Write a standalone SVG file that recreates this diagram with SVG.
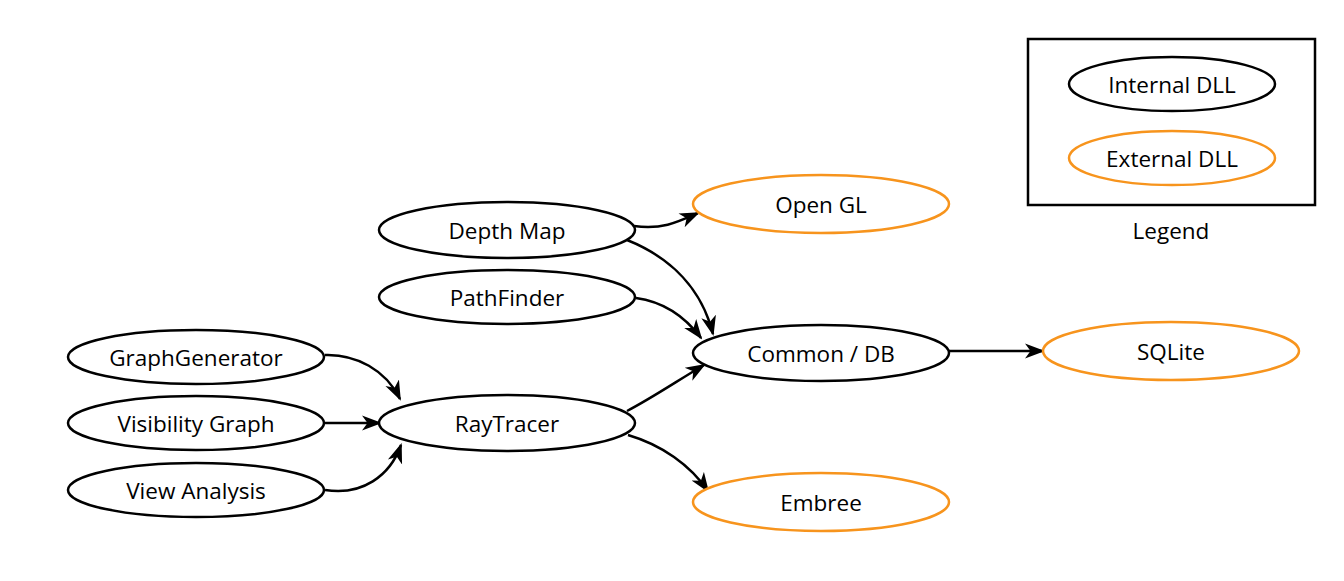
<svg xmlns="http://www.w3.org/2000/svg" width="1344" height="581" viewBox="0 0 1344 581">
<style>
.int{fill:#fff;stroke:#000;stroke-width:2.5}
.ext{fill:#fff;stroke:#F7941D;stroke-width:2.5}
.t{font-family:"Open Sans","Liberation Sans",sans-serif;font-size:22.5px;fill:#000;text-anchor:middle;dominant-baseline:central}
.e{fill:none;stroke:#000;stroke-width:2.5;marker-end:url(#ah)}
</style>
<defs>
<marker id="ah" markerUnits="userSpaceOnUse" markerWidth="20" markerHeight="18" viewBox="0 0 20 18" refX="18" refY="9" orient="auto">
<path d="M0,1.5 L20,9 L0,16.5 L5.5,9 z" fill="#000"/>
</marker>
</defs>
<rect width="1344" height="581" fill="#fff"/>
<g id="connectors">
<path class="e" d="M634,226 C662,230 678,222 698,213"/>
<path class="e" d="M627,240 C672,258 702,290 713,334"/>
<path class="e" d="M636,298 C665,302 686,318 701,338"/>
<path class="e" d="M325,355 C356,354 386,370 400,399"/>
<path class="e" d="M325,423 L380,423"/>
<path class="e" d="M325,490 C362,496 390,476 401,445"/>
<path class="e" d="M627,411 C652,398 677,381 704,365"/>
<path class="e" d="M628,435 C662,445 690,465 708,491"/>
<path class="e" d="M949,351 L1043,351"/>
</g>
<g id="depthmap"><ellipse class="int" cx="507" cy="230" rx="128" ry="28"/><text class="t" x="507" y="230">Depth Map</text></g>
<g id="pathfinder"><ellipse class="int" cx="507" cy="297" rx="128" ry="27"/><text class="t" x="507" y="297">PathFinder</text></g>
<g id="graphgenerator"><ellipse class="int" cx="196" cy="357" rx="128" ry="27"/><text class="t" x="196" y="357">GraphGenerator</text></g>
<g id="visibilitygraph"><ellipse class="int" cx="196" cy="423" rx="128" ry="27"/><text class="t" x="196" y="423">Visibility Graph</text></g>
<g id="viewanalysis"><ellipse class="int" cx="196" cy="490" rx="128" ry="27"/><text class="t" x="196" y="490">View Analysis</text></g>
<g id="raytracer"><ellipse class="int" cx="507" cy="423" rx="128" ry="28"/><text class="t" x="507" y="423">RayTracer</text></g>
<g id="opengl"><ellipse class="ext" cx="821" cy="204" rx="128" ry="29"/><text class="t" x="821" y="204">Open GL</text></g>
<g id="commondb"><ellipse class="int" cx="821" cy="353" rx="128" ry="28"/><text class="t" x="821" y="353">Common / DB</text></g>
<g id="embree"><ellipse class="ext" cx="821" cy="502" rx="128" ry="29"/><text class="t" x="821" y="502">Embree</text></g>
<g id="sqlite"><ellipse class="ext" cx="1171" cy="351" rx="128" ry="29"/><text class="t" x="1171" y="351">SQLite</text></g>
<g id="legend">
<rect x="1028" y="39" width="287" height="166" fill="none" stroke="#000" stroke-width="2.5"/>
<ellipse class="int" cx="1172" cy="84" rx="103" ry="27"/><text class="t" x="1172" y="84">Internal DLL</text>
<ellipse class="ext" cx="1172" cy="158" rx="103" ry="27"/><text class="t" x="1172" y="158">External DLL</text>
<text class="t" x="1171" y="230">Legend</text>
</g>
</svg>
